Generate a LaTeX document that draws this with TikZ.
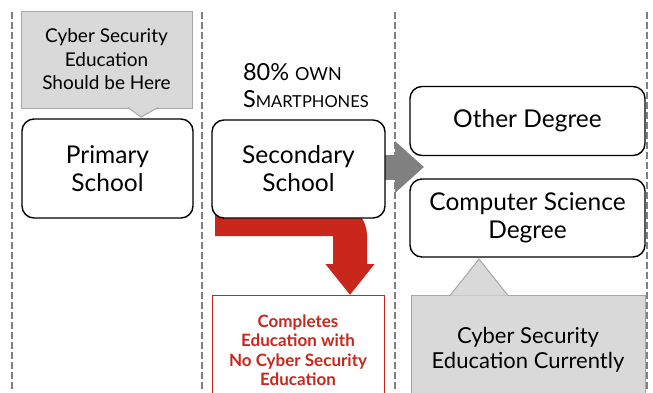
\documentclass[tikz,border=0pt]{standalone}
\usepackage{fontspec}
\setmainfont{Lato}
\usetikzlibrary{arrows.meta}
\definecolor{notefill}{HTML}{D9D9D9}
\definecolor{noteline}{HTML}{A6A6A6}
\definecolor{divgray}{HTML}{808080}
\definecolor{stopred}{HTML}{C9261C}
\begin{document}
\begin{tikzpicture}[x=1pt,y=-1pt,
  stage/.style={draw, line width=1.4pt, rounded corners=12pt, fill=white, align=center,
    inner sep=0pt, font=\fontsize{24.5}{28}\selectfont},
  note/.style={draw=noteline, line width=1pt, fill=notefill, align=center, inner sep=0pt},
  divider/.style={divgray, line width=2.5pt, dash pattern=on 7pt off 3pt},
]
\useasboundingbox (0,0) rectangle (653,392);
\clip (0,0) rectangle (653,392);

% column dividers
\draw[divider] (12,12) -- (12,392);
\draw[divider] (202,12) -- (202,392);
\draw[divider] (395,12) -- (395,392);
\draw[divider, line width=1.2pt] (647,12) -- (647,392);

% stages
\node[stage, minimum width=171pt, minimum height=99pt] (primary) at (107.5,168.5) {Primary\\School};
\coordinate (redstart) at (215,219);
\coordinate (redtip) at (350,295);
\coordinate (graytip) at (424,167);
\draw[stopred, line width=34pt, rounded corners=17pt, -{Triangle[width=47pt,length=31pt]}] (redstart) -| (redtip);
\draw[divgray, line width=25pt, -{Triangle[width=50pt,length=29pt]}] (385,167) -- (graytip);
\node[stage, minimum width=173pt, minimum height=98pt] (secondary) at (298.5,169) {Secondary\\School};
\node[stage, minimum width=235pt, minimum height=69pt] (other) at (527.5,121) {Other Degree};
\node[stage, minimum width=235pt, minimum height=78pt] (cs) at (527.5,218) {Computer Science\\Degree};

% smartphone figure
\node[align=left, anchor=west, font=\fontsize{23.5}{27}\selectfont] (phones) at (239.5,86)
  {80\% {\fontsize{18}{20}\selectfont OWN}\\S{\fontsize{16.5}{20}\selectfont MARTPHONES}};

% outcome without cyber security
\node[draw=stopred, line width=0.8pt, fill=white, text=stopred, align=center,
  minimum width=172pt, minimum height=110pt, inner sep=0pt,
  font=\bfseries\fontsize{17}{19.5}\selectfont] (nocyber) at (298,350)
  {Completes\\Education with\\No Cyber Security\\Education};

% callouts
\node[note, minimum width=171pt, minimum height=97pt, font=\fontsize{19}{23.5}\selectfont] (should) at (106.5,59.5)
  {Cyber Security\\Education\\Should be Here};
\filldraw[draw=noteline, fill=notefill, line width=1pt] (128,107.5) -- (141,117) -- (158,107.5);
\node[note, minimum width=234pt, minimum height=110pt, font=\fontsize{22}{24.5}\selectfont] (currently) at (528,350)
  {Cyber Security\\Education Currently};
\filldraw[draw=noteline, fill=notefill, line width=1pt] (450,295.5) -- (479,259) -- (508,295.5);
\end{tikzpicture}
\end{document}
